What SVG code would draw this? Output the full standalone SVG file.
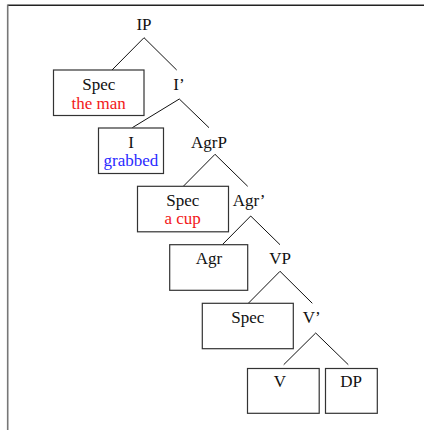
<svg xmlns="http://www.w3.org/2000/svg" width="424" height="430" viewBox="0 0 424 430">
<style>
text{font-family:"Liberation Serif","Times New Roman",serif;font-size:17px;text-anchor:middle;fill:#111}
.box{fill:#fff;stroke:#333;stroke-width:1.2}
.red{fill:#f21818}
.blue{fill:#2a2aff}
#connectors line{stroke:#111;stroke-width:1}
</style>
<rect width="424" height="430" fill="#fff"/>
<g id="frame">
<line x1="7.7" y1="5.3" x2="424" y2="5.3" stroke="#222" stroke-width="1.4"/>
<line x1="7.7" y1="4.6" x2="7.7" y2="430" stroke="#777" stroke-width="1.6"/>
</g>
<g id="connectors">
<line x1="144" y1="37.7" x2="112" y2="70"/>
<line x1="144" y1="37.7" x2="176.7" y2="70"/>
<line x1="179.3" y1="99" x2="132.3" y2="127.7"/>
<line x1="179.3" y1="99" x2="209" y2="127.7"/>
<line x1="215" y1="154.3" x2="183.3" y2="186.3"/>
<line x1="215" y1="154.3" x2="247.7" y2="186.3"/>
<line x1="250.7" y1="216" x2="222.3" y2="244.7"/>
<line x1="250.7" y1="216" x2="280" y2="244.7"/>
<line x1="280" y1="271.3" x2="248.3" y2="303.3"/>
<line x1="280" y1="271.3" x2="312.3" y2="303.3"/>
<line x1="315.7" y1="333" x2="283.7" y2="364.7"/>
<line x1="315.7" y1="333" x2="348.3" y2="364.7"/>
</g>
<g id="IP"><text x="144" y="30">IP</text></g>
<g id="SpecIP"><rect class="box" x="53.5" y="70" width="90.5" height="45.5"/><text x="98.7" y="90">Spec</text><text class="red" x="98.7" y="108.5">the man</text></g>
<g id="Ibar"><text x="179" y="90">I’</text></g>
<g id="I"><rect class="box" x="98.5" y="128" width="65" height="45.5"/><text x="131" y="147.5">I</text><text class="blue" x="131" y="166">grabbed</text></g>
<g id="AgrP"><text x="209" y="147.5">AgrP</text></g>
<g id="SpecAgrP"><rect class="box" x="137.5" y="186.3" width="91" height="45.5"/><text x="182.7" y="206">Spec</text><text class="red" x="182.7" y="224">a cup</text></g>
<g id="Agrbar"><text x="249" y="206">Agr’</text></g>
<g id="Agr"><rect class="box" x="169.7" y="244.7" width="78" height="45.6"/><text x="209" y="264">Agr</text></g>
<g id="VP"><text x="280" y="264">VP</text></g>
<g id="SpecVP"><rect class="box" x="202.3" y="303.3" width="91" height="45.4"/><text x="247.7" y="322.7">Spec</text></g>
<g id="Vbar"><text x="311.7" y="322.7">V’</text></g>
<g id="V"><rect class="box" x="247.5" y="368.5" width="71.7" height="44.8"/><text x="280" y="387.3">V</text></g>
<g id="DP"><rect class="box" x="325.5" y="368.5" width="51.8" height="44.8"/><text x="351" y="387.3">DP</text></g>
</svg>
